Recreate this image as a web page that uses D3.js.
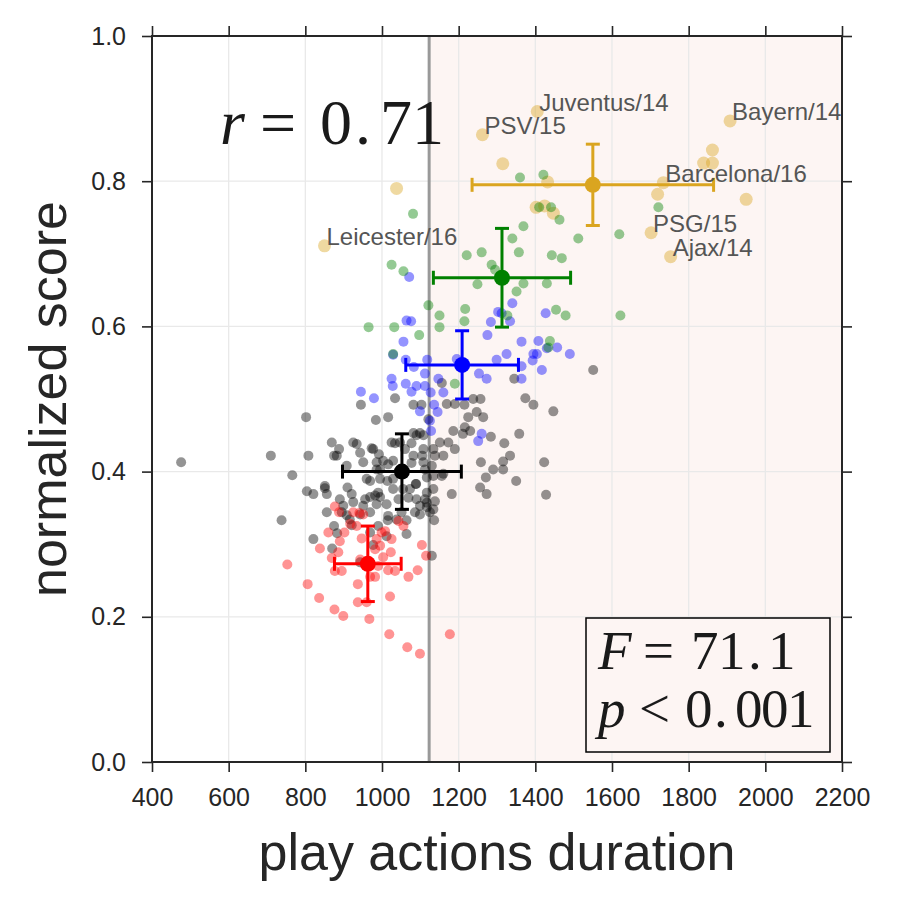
<!DOCTYPE html>
<html>
<head>
<meta charset="utf-8">
<script src="https://cdn.jsdelivr.net/npm/d3@7"></script>
<style>
  body { margin: 0; background: #fff; }
</style>
</head>
<body>
<div id="chart"></div>
<script>
const xTicks = [400, 600, 800, 1000, 1200, 1400, 1600, 1800, 2000, 2200];
const yTicks = [0, 0.2, 0.4, 0.6, 0.8, 1.0];
const threshold = 1123;

const blackPts = [
  [476, 0.413], [710, 0.422], [766, 0.395], [802, 0.475], [808, 0.422], [738, 0.333], [821, 0.307], [870, 0.294],
  [945, 0.492], [984, 0.471], [1016, 0.475], [1034, 0.501], [1082, 0.492], [1103, 0.492], [1156, 0.522], [1169, 0.493],
  [1190, 0.493], [1215, 0.492], [1238, 0.5], [1257, 0.5], [1225, 0.475], [1247, 0.482], [1264, 0.475], [1186, 0.456],
  [1211, 0.452], [1230, 0.456], [1284, 0.448], [1190, 0.431], [1160, 0.422], [1258, 0.413], [1290, 0.403], [1271, 0.392],
  [1256, 0.378], [1273, 0.369], [1182, 0.369], [1374, 0.501], [1395, 0.492], [1447, 0.483], [1216, 0.461], [1358, 0.452],
  [1319, 0.439], [1151, 0.44], [1173, 0.44], [1134, 0.431], [1334, 0.422], [1316, 0.414], [1316, 0.403], [1423, 0.413],
  [1350, 0.387], [1428, 0.368], [1551, 0.54], [1345, 0.528], [1112, 0.403], [1130, 0.408], [1134, 0.394], [1156, 0.394],
  [1134, 0.376], [1117, 0.371], [1117, 0.357], [1134, 0.348], [1117, 0.351], [1082, 0.453], [1099, 0.453], [1121, 0.472],
  [1089, 0.383], [1160, 0.397], [1108, 0.431], [925, 0.44], [934, 0.438], [888, 0.431], [875, 0.422], [882, 0.422],
  [973, 0.432], [977, 0.431], [992, 0.424], [1025, 0.44], [1034, 0.439], [1077, 0.439], [1090, 0.45], [1108, 0.45],
  [1060, 0.431], [1105, 0.422], [951, 0.413], [1003, 0.415], [1016, 0.41], [1029, 0.415], [986, 0.403], [995, 0.403],
  [908, 0.408], [960, 0.39], [969, 0.387], [1014, 0.387], [1029, 0.39], [1088, 0.383], [1117, 0.392], [851, 0.38],
  [851, 0.377], [910, 0.378], [804, 0.373], [821, 0.369], [856, 0.369], [890, 0.362], [921, 0.369], [956, 0.362],
  [982, 0.367], [990, 0.371], [986, 0.355], [1012, 0.355], [1043, 0.362], [1069, 0.364], [1099, 0.353], [1112, 0.362],
  [856, 0.344], [895, 0.344], [943, 0.341], [969, 0.344], [1016, 0.339], [1051, 0.344], [1086, 0.344], [899, 0.353],
  [1077, 0.412], [943, 0.426], [869, 0.44], [1047, 0.44], [1138, 0.422], [986, 0.413], [1082, 0.422], [1108, 0.413],
  [995, 0.39], [969, 0.365], [995, 0.365], [1029, 0.376], [1055, 0.376], [1073, 0.376], [1090, 0.362], [925, 0.358],
  [951, 0.353], [875, 0.325], [883, 0.315], [908, 0.34], [916, 0.334], [921, 0.326], [969, 0.316], [990, 0.325],
  [1012, 0.311], [1015, 0.333], [1038, 0.334], [1064, 0.333], [1064, 0.314], [1099, 0.341], [1125, 0.344], [1136, 0.333],
  [1130, 0.284], [977, 0.299], [943, 0.275], [1138, 0.359]
];

const redPts = [
  [877, 0.352], [888, 0.344], [925, 0.344], [941, 0.343], [951, 0.341], [860, 0.316], [902, 0.316], [890, 0.304],
  [838, 0.294], [886, 0.289], [869, 0.281], [877, 0.263], [895, 0.263], [753, 0.272], [806, 0.245], [836, 0.226],
  [876, 0.21], [899, 0.201], [967, 0.197], [937, 0.245], [937, 0.22], [960, 0.22], [982, 0.255], [969, 0.255],
  [1021, 0.228], [1019, 0.176], [1066, 0.158], [1099, 0.149], [1177, 0.176], [1016, 0.264], [1034, 0.263], [1069, 0.255],
  [1093, 0.264], [1115, 0.284], [1104, 0.299], [1003, 0.282], [1023, 0.289], [995, 0.298], [1025, 0.307], [986, 0.307],
  [999, 0.316], [1008, 0.318], [947, 0.308], [1043, 0.332], [1056, 0.325], [917, 0.328], [934, 0.325], [943, 0.279],
  [982, 0.293], [990, 0.27]
];

const bluePts = [
  [1071, 0.668], [1064, 0.608], [1076, 0.607], [1056, 0.579], [1029, 0.561], [1062, 0.554], [1083, 0.544], [1112, 0.535],
  [1118, 0.554], [1195, 0.555], [1303, 0.62], [1284, 0.606], [1275, 0.588], [1299, 0.554], [1253, 0.535], [1273, 0.528],
  [1147, 0.528], [1025, 0.528], [1028, 0.518], [1062, 0.521], [1090, 0.518], [1112, 0.518], [1077, 0.51], [1127, 0.509],
  [1160, 0.509], [945, 0.51], [979, 0.501], [1136, 0.492], [1145, 0.482], [1099, 0.483], [1125, 0.47], [1128, 0.456],
  [1260, 0.452], [1251, 0.442], [1340, 0.632], [1427, 0.618], [1312, 0.618], [1334, 0.607], [1364, 0.579], [1408, 0.58],
  [1430, 0.57], [1457, 0.571], [1490, 0.562], [1395, 0.562], [1404, 0.562], [1393, 0.553], [1417, 0.54], [1325, 0.562],
  [1364, 0.545], [1364, 0.528]
];

const greenPts = [
  [1081, 0.755], [1025, 0.685], [1056, 0.676], [1221, 0.698], [1260, 0.702], [1286, 0.685], [1295, 0.678], [1249, 0.658],
  [1121, 0.629], [1150, 0.615], [1217, 0.624], [1215, 0.607], [1150, 0.599], [1097, 0.588], [1032, 0.599], [965, 0.599],
  [1029, 0.562], [1190, 0.521], [1357, 0.702], [1443, 0.698], [1469, 0.694], [1369, 0.659], [1430, 0.659], [1351, 0.648],
  [1327, 0.615], [1454, 0.623], [1479, 0.615], [1622, 0.615], [1438, 0.58], [1434, 0.571], [1360, 0.805], [1421, 0.809],
  [1410, 0.764], [1441, 0.764], [1463, 0.747], [1369, 0.738], [1340, 0.721], [1512, 0.721], [1619, 0.727], [1721, 0.764]
];

const goldPts = [
  [850, 0.711], [1038, 0.79], [1262, 0.864], [1315, 0.824], [1405, 0.896], [1432, 0.799], [1402, 0.764], [1424, 0.766],
  [1447, 0.756], [1702, 0.729], [1719, 0.782], [1734, 0.798], [1753, 0.696], [1839, 0.825], [1862, 0.825], [1862, 0.843],
  [1908, 0.883], [1950, 0.775]
];

const teamNames = ["Leicester/16", "Juventus/14", "PSV/15", "Bayern/14", "Barcelona/16", "PSG/15", "Ajax/14"];
const teamPts = [[850, 0.711], [1405, 0.896], [1262, 0.864], [1908, 0.883], [1734, 0.798], [1702, 0.729], [1753, 0.696]];

const meanX = [963, 1052, 1209, 1313, 1550];
const meanY = [0.273, 0.4, 0.547, 0.667, 0.795];
const meanXErr = [87, 155, 147, 179, 315];
const meanYErr = [0.052, 0.052, 0.047, 0.068, 0.056];

const width = 900;
const height = 900;
const margin = { top: 36, right: 58, bottom: 138, left: 152 };
const w = width - margin.left - margin.right;
const h = height - margin.top - margin.bottom;

const svg = d3.select("#chart").append("svg")
  .attr("width", width)
  .attr("height", height)
  .style("font-family", "'Liberation Sans', Arial, sans-serif");

const g = svg.append("g").attr("transform", `translate(${margin.left},${margin.top})`);

const x = d3.scaleLinear().domain([400, 2200]).range([0, w]);
const y = d3.scaleLinear().domain([0, 1]).range([h, 0]);

// shaded region right of the threshold
g.append("rect")
  .attr("x", x(threshold))
  .attr("y", 0)
  .attr("width", x(2200) - x(threshold))
  .attr("height", h)
  .attr("fill", "#fdf5f3");

// grid
g.selectAll(".gx").data(xTicks).enter().append("line")
  .attr("x1", (d) => x(d)).attr("x2", (d) => x(d))
  .attr("y1", 0).attr("y2", h)
  .attr("stroke", "#e9e9e9").attr("stroke-width", 1.3);
g.selectAll(".gy").data(yTicks).enter().append("line")
  .attr("x1", 0).attr("x2", w)
  .attr("y1", (d) => y(d)).attr("y2", (d) => y(d))
  .attr("stroke", "#e9e9e9").attr("stroke-width", 1.3);

g.append("line")
  .attr("x1", x(threshold)).attr("x2", x(threshold))
  .attr("y1", 0).attr("y2", h)
  .attr("stroke", "#999").attr("stroke-width", 3);

function scatter(pts, color, r) {
  g.append("g").selectAll("circle").data(pts).enter().append("circle")
    .attr("cx", (d) => x(d[0]))
    .attr("cy", (d) => y(d[1]))
    .attr("r", r)
    .attr("fill", color)
    .attr("fill-opacity", 0.42);
}

scatter(blackPts, "#000000", 5);
scatter(redPts, "#ff0000", 5);
scatter(bluePts, "#0000ff", 5);
scatter(goldPts, "#daa520", 6.5);
scatter(greenPts, "#008000", 5);

// group means with error bars
const groupColors = ["#ff0000", "#000000", "#0000ff", "#008000", "#daa520"];
const cap = 7;
meanX.forEach((mx, i) => {
  const eb = g.append("g").attr("stroke", groupColors[i]).attr("stroke-width", 3);
  const cx = x(mx), cy = y(meanY[i]);
  const x0 = x(mx - meanXErr[i]), x1 = x(mx + meanXErr[i]);
  const y0 = y(meanY[i] - meanYErr[i]), y1 = y(meanY[i] + meanYErr[i]);
  eb.append("line").attr("x1", x0).attr("x2", x1).attr("y1", cy).attr("y2", cy);
  eb.append("line").attr("x1", cx).attr("x2", cx).attr("y1", y0).attr("y2", y1);
  eb.append("line").attr("x1", x0).attr("x2", x0).attr("y1", cy - cap).attr("y2", cy + cap);
  eb.append("line").attr("x1", x1).attr("x2", x1).attr("y1", cy - cap).attr("y2", cy + cap);
  eb.append("line").attr("x1", cx - cap).attr("x2", cx + cap).attr("y1", y0).attr("y2", y0);
  eb.append("line").attr("x1", cx - cap).attr("x2", cx + cap).attr("y1", y1).attr("y2", y1);
  g.append("circle").attr("cx", cx).attr("cy", cy).attr("r", 8).attr("fill", groupColors[i]);
});

// team labels
g.selectAll(".team").data(teamNames).enter().append("text")
  .attr("x", (d, i) => x(teamPts[i][0]) + 2)
  .attr("y", (d, i) => y(teamPts[i][1]) - 1)
  .attr("font-size", 24)
  .attr("fill", "#555")
  .text((d) => d);

// axes
const axB = g.append("g").attr("transform", `translate(0,${h})`)
  .call(d3.axisBottom(x).tickValues(xTicks).tickSize(10).tickSizeOuter(0).tickPadding(16).tickFormat(d3.format("d")));
const axL = g.append("g")
  .call(d3.axisLeft(y).tickValues(yTicks).tickSize(10).tickSizeOuter(0).tickPadding(16).tickFormat(d3.format(".1f")));
const axT = g.append("g")
  .call(d3.axisTop(x).tickValues(xTicks).tickSize(10).tickSizeOuter(0).tickFormat(""));
const axR = g.append("g").attr("transform", `translate(${w},0)`)
  .call(d3.axisRight(y).tickValues(yTicks).tickSize(10).tickSizeOuter(0).tickFormat(""));
[axB, axL, axT, axR].forEach((a) => {
  a.select(".domain").remove();
  a.selectAll(".tick line").attr("stroke", "#262626").attr("stroke-width", 1.6);
  a.selectAll(".tick text").attr("fill", "#262626").attr("font-size", 25)
    .style("font-family", "'Liberation Sans', Arial, sans-serif");
});

g.append("rect")
  .attr("width", w).attr("height", h)
  .attr("fill", "none").attr("stroke", "#262626").attr("stroke-width", 2);

svg.append("text")
  .attr("x", margin.left + w / 2)
  .attr("y", 870)
  .attr("text-anchor", "middle")
  .attr("font-size", 52)
  .attr("fill", "#262626")
  .text("play actions duration");

svg.append("text")
  .attr("transform", `translate(66,${margin.top + h / 2}) rotate(-90)`)
  .attr("text-anchor", "middle")
  .attr("font-size", 52)
  .attr("fill", "#262626")
  .text("normalized score");

// math annotations
function mathText(tokens, baseline, size) {
  tokens.forEach((t) => {
    svg.append("text")
      .attr("x", t[1])
      .attr("y", baseline)
      .attr("font-size", size)
      .attr("font-family", "'Liberation Serif', 'DejaVu Serif', serif")
      .attr("font-style", t[2] ? "italic" : "normal")
      .attr("fill", "#1a1a1a")
      .text(t[0]);
  });
}

mathText([["r", 220, true], ["=", 260, false], ["0", 320, false], [".", 355, false], ["7", 380, false], ["1", 412, false]], 144, 64);

svg.append("rect")
  .attr("x", 586).attr("y", 618)
  .attr("width", 244).attr("height", 134)
  .attr("fill", "#fdf5f3")
  .attr("stroke", "#000").attr("stroke-width", 1.5);

mathText([["F", 598, true], ["=", 643, false], ["7", 691, false], ["1", 718, false], [".", 748, false], ["1", 768, false]], 669, 55);
mathText([["p", 598, true], ["<", 639, false], ["0", 685, false], [".", 714, false], ["0", 735, false], ["0", 761, false], ["1", 787, false]], 727, 55);
</script>
</body>
</html>
